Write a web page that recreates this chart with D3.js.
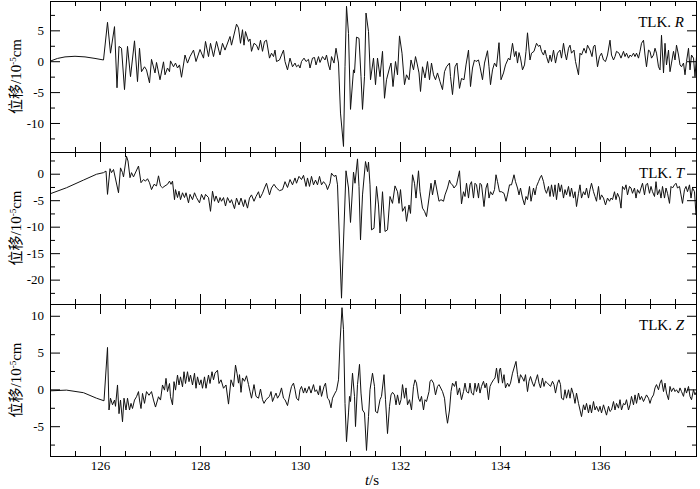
<!DOCTYPE html>
<html>
<head>
<meta charset="utf-8">
<script src="https://cdn.jsdelivr.net/npm/d3@7"></script>
<style>
body { margin: 0; background: #fff; }
svg { display: block; }
.tick text { font-family: "Liberation Serif", "Times New Roman", serif; font-size: 13px; fill: #000; }
.tick line { stroke: #000; }
</style>
</head>
<body>
<svg id="chart" width="700" height="489"></svg>
<script>
// [t (s), displacement (10^-5 cm)]
const traceR = [
  [125.00,0],[125.15,0.45],[125.3,0.7],[125.5,0.8],[125.7,0.7],[125.9,0.45],[126.07,0.2],
  [126.15,6.3],[126.21,1.3],[126.29,5.6],[126.34,-4.3],[126.38,2.4],[126.43,2.1],[126.49,-4.6],[126.55,2.4],
  [126.61,-2.5],[126.69,3.3],[126.75,-3.3],[126.79,2.1],[126.83,-1.7],[126.89,-0.9],[126.93,-1.4],[126.99,-3.5],
  [127.03,0.3],[127.10,-1.9],[127.13,-0.2],[127.20,-3.0],[127.27,-0.1],[127.30,-2.2],[127.35,-1.1],[127.39,-1.7],
  [127.41,0.05],[127.47,-0.9],[127.51,-0.3],[127.55,-1.1],[127.59,-0.6],[127.63,-2.6],[127.70,1.0],[127.75,-0.3],
  [127.80,0.75],[127.87,1.8],[127.92,-0.05],[128.00,1.9],[128.07,0.5],[128.11,3.2],[128.17,0.75],[128.21,2.9],
  [128.27,0.75],[128.33,3.2],[128.40,1.0],[128.45,2.9],[128.50,1.8],[128.60,4.0],[128.63,2.6],[128.73,6.0],
  [128.77,5.4],[128.81,2.9],[128.85,5.1],[128.88,2.6],[128.91,4.8],[128.97,3.2],[129.00,3.6],[129.03,1.6],
  [129.08,2.9],[129.13,2.6],[129.17,1.8],[129.21,3.4],[129.25,1.6],[129.29,3.2],[129.33,3.4],[129.39,0.5],
  [129.43,1.3],[129.47,0.75],[129.50,1.8],[129.53,-0.05],[129.59,0.2],[129.67,1.8],[129.70,-0.05],[129.75,-1.4],
  [129.80,0.5],[129.85,-0.9],[129.90,-0.3],[129.93,-0.9],[129.97,-0.6],[130.00,-1.1],[130.03,-0.05],[130.08,0.5],
  [130.12,-0.05],[130.17,0.3],[130.20,-1.1],[130.25,0.5],[130.29,0.6],[130.32,-0.6],[130.37,0.75],[130.40,-0.2],
  [130.45,0.75],[130.50,0.2],[130.53,1.0],[130.57,-0.6],[130.60,-1.4],[130.63,0.75],[130.68,-0.3],[130.72,2.1],
  [130.77,-0.3],[130.81,-8.4],[130.87,-13.8],[130.90,-0.9],[130.93,8.9],[130.97,4.5],[131.01,-7.8],[131.07,-1.4],
  [131.09,-1.9],[131.13,3.9],[131.18,3.7],[131.22,-2.5],[131.25,-7.8],[131.29,-2.5],[131.32,7.8],[131.37,4.8],
  [131.41,-3.0],[131.47,0.5],[131.51,-3.8],[131.55,0.5],[131.60,-2.5],[131.65,1.6],[131.69,-6.0],[131.73,-3.0],
  [131.79,-1.1],[131.82,-0.3],[131.86,-4.1],[131.91,-0.05],[131.95,-2.2],[131.99,4.1],[132.04,1.3],[132.09,-3.8],
  [132.13,-2.2],[132.18,-3.0],[132.22,0.2],[132.27,-1.4],[132.31,0.75],[132.34,-0.3],[132.38,-1.9],[132.41,-4.9],
  [132.45,-0.9],[132.50,-2.7],[132.55,-0.05],[132.59,-3.0],[132.63,-0.3],[132.67,-2.2],[132.71,-3.0],[132.75,-1.9],
  [132.80,-3.3],[132.85,-4.6],[132.89,-1.7],[132.93,-0.9],[132.99,-0.3],[133.01,-2.5],[133.05,-5.4],[133.10,-0.9],
  [133.14,-0.3],[133.19,-4.4],[133.23,-2.8],[133.28,-3.0],[133.32,-0.6],[133.37,1.8],[133.41,-4.1],[133.45,-1.1],
  [133.49,0.2],[133.52,-0.05],[133.57,0.2],[133.60,-0.9],[133.65,-3.0],[133.69,-0.3],[133.75,1.7],[133.78,-0.9],
  [133.81,-3.8],[133.85,-1.4],[133.89,-0.3],[133.93,-0.9],[133.98,3.0],[134.02,-3.0],[134.07,-1.9],[134.11,-0.6],
  [134.17,0.5],[134.20,0.2],[134.25,2.9],[134.29,0.75],[134.32,1.6],[134.35,-0.3],[134.38,1.4],[134.41,0.5],
  [134.45,-1.4],[134.49,-0.6],[134.52,1.6],[134.55,4.6],[134.60,0.2],[134.63,1.3],[134.68,1.6],[134.73,2.9],
  [134.77,2.4],[134.80,2.6],[134.83,1.6],[134.87,1.0],[134.90,1.8],[134.93,0.75],[134.97,-0.3],[135.00,1.0],
  [135.03,-0.05],[135.07,1.8],[135.11,-0.3],[135.15,1.3],[135.20,1.8],[135.23,0.5],[135.27,2.9],[135.30,1.3],
  [135.33,0.2],[135.37,2.1],[135.40,2.6],[135.43,1.3],[135.48,1.8],[135.51,-0.05],[135.57,-2.2],[135.60,1.3],
  [135.63,1.0],[135.68,2.1],[135.72,1.3],[135.75,2.6],[135.80,1.8],[135.84,0.75],[135.87,2.4],[135.90,2.6],
  [135.95,-0.9],[135.99,0.75],[136.03,1.3],[136.07,0.2],[136.11,-0.05],[136.15,1.0],[136.20,3.4],[136.23,1.0],
  [136.27,0.2],[136.30,0.75],[136.33,1.6],[136.38,1.3],[136.42,0.5],[136.47,1.6],[136.50,0.75],[136.53,1.3],
  [136.57,0.5],[136.60,1.0],[136.63,0.75],[136.67,1.3],[136.70,0.75],[136.73,1.3],[136.77,0.5],[136.80,1.6],
  [136.83,2.9],[136.87,3.4],[136.90,1.0],[136.93,-0.9],[136.97,1.8],[137.00,1.6],[137.03,0.5],[137.07,1.0],
  [137.10,2.1],[137.13,1.3],[137.17,-0.9],[137.20,-1.4],[137.23,4.2],[137.27,-1.9],[137.30,2.9],[137.33,-0.6],
  [137.37,1.8],[137.40,-1.7],[137.43,-0.3],[137.47,1.6],[137.50,0.2],[137.53,2.6],[137.57,1.0],[137.60,-0.6],
  [137.63,-0.9],[137.67,-0.3],[137.70,-2.2],[137.73,-0.05],[137.77,2.1],[137.80,-1.4],[137.83,1.0],[137.87,0.5],
  [137.90,-2.5],[137.93,0.75],[137.95,0]
];

const traceT = [
  [125.00,-3.8],[125.33,-2.65],[125.67,-1.2],[125.93,-0.1],[126.07,0.2],
  [126.12,0.5],[126.15,-3.9],[126.2,0.95],[126.23,0.2],[126.27,0.8],[126.37,-3.6],[126.41,1.1],[126.45,0.2],
  [126.47,-0.6],[126.53,3.3],[126.56,2.4],[126.6,-0.75],[126.63,0.2],[126.67,-0.6],[126.77,1.45],[126.82,-1.7],
  [126.87,-1.1],[126.91,-1.4],[126.95,-0.95],[126.99,-1.7],[127.03,-3.0],[127.08,-2.0],[127.13,-2.3],[127.17,-0.4],
  [127.21,-2.3],[127.25,-2.65],[127.3,-2.3],[127.35,-2.0],[127.39,-1.4],[127.42,-2.0],[127.45,-1.4],[127.49,-4.9],
  [127.51,-3.0],[127.55,-4.5],[127.58,-3.3],[127.61,-4.9],[127.65,-3.6],[127.69,-4.5],[127.72,-3.6],[127.77,-5.5],
  [127.8,-3.9],[127.85,-4.9],[127.89,-3.6],[127.93,-4.5],[127.99,-5.5],[128.03,-3.9],[128.08,-4.9],[128.11,-3.9],
  [128.17,-4.5],[128.21,-7.1],[128.25,-3.3],[128.29,-5.2],[128.32,-4.2],[128.37,-5.5],[128.4,-4.5],[128.43,-5.2],
  [128.47,-4.5],[128.51,-6.1],[128.55,-4.5],[128.6,-5.5],[128.63,-4.9],[128.69,-6.6],[128.73,-4.6],[128.78,-5.9],
  [128.82,-4.6],[128.87,-6.2],[128.9,-4.9],[128.95,-6.5],[128.99,-4.6],[129.03,-4.0],[129.08,-5.2],[129.12,-4.3],
  [129.17,-3.4],[129.2,-4.6],[129.25,-3.7],[129.29,-2.7],[129.33,-1.8],[129.39,-4.0],[129.43,-2.7],[129.48,-2.0],
  [129.53,-2.7],[129.59,-3.2],[129.65,-3.0],[129.7,-1.5],[129.75,-2.6],[129.8,-1.1],[129.85,-2.1],[129.9,-0.8],
  [129.93,-1.8],[129.98,-0.5],[130.03,-1.1],[130.07,-0.3],[130.12,-2.4],[130.15,-0.8],[130.19,-2.4],[130.23,-0.5],
  [130.27,-2.1],[130.31,-1.2],[130.35,-2.1],[130.39,-0.5],[130.43,-2.1],[130.47,-1.5],[130.52,-2.1],[130.55,-3.0],
  [130.6,-1.8],[130.63,0.1],[130.68,-0.5],[130.72,-0.3],[130.75,-2.1],[130.83,-23.5],[130.92,0.55],[130.97,-2.7],
  [131.01,-9.2],[131.07,0.3],[131.1,-1.8],[131.15,2.8],[131.18,-2.4],[131.21,-12.5],[131.25,-4.0],[131.31,2.3],
  [131.35,0.4],[131.37,2.2],[131.4,-2.1],[131.43,-10.6],[131.48,-10.3],[131.53,-2.4],[131.57,-5.9],[131.6,-11.2],
  [131.65,-3.4],[131.7,-10.9],[131.75,-10.6],[131.8,-4.3],[131.85,-5.6],[131.9,-2.3],[131.95,-3.4],[131.98,-5.6],
  [132.01,-3.0],[132.05,-7.1],[132.1,-6.2],[132.13,-9.0],[132.18,-5.9],[132.21,-7.5],[132.25,-0.2],[132.29,-1.8],
  [132.32,-4.6],[132.37,0.55],[132.4,-3.4],[132.45,-6.5],[132.49,-7.1],[132.53,-8.1],[132.58,-4.6],[132.62,-1.8],
  [132.65,-4.0],[132.7,-1.2],[132.73,-2.7],[132.78,-5.2],[132.82,-4.9],[132.87,-5.2],[132.9,-4.0],[132.95,-2.7],
  [132.99,-1.2],[133.01,-1.8],[133.05,-2.1],[133.08,-2.7],[133.13,-2.1],[133.19,0.55],[133.23,-5.7],[133.27,-3.4],
  [133.3,-4.3],[133.33,-1.8],[133.37,-4.6],[133.4,-2.1],[133.43,-1.5],[133.47,-4.6],[133.5,-1.8],[133.53,-2.1],
  [133.57,-4.6],[133.6,-1.8],[133.63,-2.1],[133.68,-6.2],[133.72,-2.7],[133.75,-1.8],[133.78,-4.6],[133.81,-3.4],
  [133.85,-4.0],[133.89,-3.0],[133.92,-0.2],[133.95,-1.5],[133.99,-3.4],[134.03,-3.4],[134.08,-3.7],[134.12,-5.2],
  [134.15,-4.0],[134.19,-2.1],[134.23,-2.1],[134.28,-0.2],[134.31,-1.5],[134.35,-2.7],[134.38,-4.0],[134.41,-2.7],
  [134.45,-4.6],[134.49,-5.9],[134.52,-4.3],[134.55,-4.9],[134.59,-2.4],[134.62,-5.2],[134.67,-2.7],[134.7,-4.0],
  [134.73,-2.4],[134.77,-1.5],[134.8,-0.8],[134.83,-0.3],[134.87,-1.5],[134.9,-3.0],[134.93,-3.7],[134.97,-2.4],
  [135.0,-4.3],[135.03,-2.1],[135.07,-4.3],[135.1,-2.1],[135.13,-4.9],[135.17,-1.8],[135.2,-3.4],[135.23,-2.1],
  [135.27,-4.6],[135.3,-3.0],[135.33,-4.0],[135.37,-2.4],[135.4,-4.3],[135.43,-2.7],[135.47,-4.6],[135.5,-3.4],
  [135.53,-6.2],[135.57,-3.7],[135.6,-2.1],[135.63,-4.6],[135.67,-3.4],[135.7,-4.0],[135.73,-2.7],[135.77,-4.6],
  [135.8,-3.0],[135.83,-1.8],[135.87,-3.4],[135.9,-4.3],[135.93,-5.2],[135.97,-2.4],[136.0,-4.9],[136.03,-4.0],
  [136.07,-4.6],[136.11,-5.9],[136.15,-4.6],[136.19,-5.2],[136.22,-4.6],[136.25,-4.9],[136.29,-3.4],[136.32,-4.9],
  [136.35,-3.7],[136.39,-4.6],[136.42,-6.5],[136.45,-2.4],[136.49,-3.0],[136.52,-2.1],[136.55,-4.0],[136.59,-2.4],
  [136.62,-2.7],[136.65,-3.7],[136.69,-2.7],[136.72,-4.6],[136.75,-3.0],[136.79,-3.7],[136.82,-2.7],[136.85,-1.8],
  [136.89,-4.0],[136.92,-2.1],[136.95,-1.8],[136.99,-3.7],[137.02,-2.4],[137.05,-3.4],[137.09,-4.3],[137.12,-1.5],
  [137.15,-4.0],[137.19,-3.0],[137.22,-4.6],[137.25,-2.4],[137.29,-4.6],[137.32,-2.7],[137.35,-3.7],[137.39,-5.6],
  [137.42,-2.4],[137.45,-2.7],[137.49,-2.1],[137.52,-1.8],[137.55,-2.7],[137.59,-2.4],[137.62,-4.0],[137.65,-5.6],
  [137.69,-3.0],[137.72,-2.4],[137.75,-3.4],[137.79,-2.1],[137.82,-4.6],[137.85,-2.7],[137.89,-3.4],[137.92,-7.8],
  [137.95,-6.5]
];

const traceZ = [
  [125.00,-0.2],[125.33,-0.1],[125.67,-0.45],[125.93,-1.2],[126.08,-1.55],
  [126.15,5.7],[126.18,-2.8],[126.21,-1.2],[126.25,-2.1],[126.29,-1.45],[126.31,-2.3],[126.35,0.6],[126.38,-3.3],
  [126.41,-1.45],[126.45,-4.4],[126.48,-1.2],[126.52,-2.8],[126.55,-1.2],[126.59,-2.8],[126.62,-1.9],[126.65,-2.6],
  [126.69,-1.45],[126.73,-1.0],[126.77,-0.3],[126.79,-1.45],[126.82,-2.6],[126.85,-0.55],[126.89,-1.9],[126.93,-0.3],
  [126.98,-0.8],[127.03,-0.3],[127.07,-1.45],[127.11,-2.4],[127.17,-1.0],[127.21,-1.45],[127.25,0.6],[127.29,-0.1],
  [127.32,1.5],[127.35,-0.3],[127.39,0.8],[127.41,-1.0],[127.45,-2.1],[127.48,1.05],[127.51,-0.1],[127.55,1.95],
  [127.58,0.6],[127.61,1.7],[127.65,0.35],[127.68,2.4],[127.71,0.8],[127.75,2.4],[127.78,1.05],[127.81,1.95],
  [127.85,0.6],[127.89,2.2],[127.92,0.15],[127.95,1.7],[127.99,0.6],[128.02,1.3],[128.05,0.15],[128.09,1.7],
  [128.12,0.15],[128.17,1.95],[128.2,0.8],[128.24,2.4],[128.27,1.3],[128.3,2.2],[128.35,2.6],[128.38,0.8],
  [128.42,1.3],[128.47,0.15],[128.52,0.6],[128.57,-2.0],[128.62,1.3],[128.67,0.35],[128.71,3.3],[128.74,2.2],
  [128.77,0.85],[128.79,2.0],[128.82,-0.4],[128.85,1.55],[128.89,1.1],[128.93,1.85],[128.97,0.65],[129.0,-0.3],
  [129.03,-1.2],[129.08,0.65],[129.12,-0.95],[129.17,-1.2],[129.21,0.05],[129.25,-1.4],[129.28,-1.9],[129.32,-1.4],
  [129.39,-0.95],[129.42,-0.3],[129.45,-1.65],[129.49,-0.95],[129.52,-0.5],[129.55,-1.2],[129.59,-0.75],[129.63,0.2],
  [129.67,-1.2],[129.7,-1.4],[129.75,-2.2],[129.8,-0.5],[129.83,0.4],[129.87,0.85],[129.9,-0.05],[129.93,-1.2],
  [129.97,-1.5],[130.0,-0.05],[130.03,0.4],[130.07,-0.5],[130.1,0.2],[130.13,-0.5],[130.18,0.4],[130.22,-0.5],
  [130.27,0.65],[130.3,-0.3],[130.33,-0.05],[130.37,-0.75],[130.4,0.5],[130.43,-0.95],[130.48,0.4],[130.51,0.85],
  [130.55,-1.2],[130.58,-1.4],[130.62,-2.5],[130.65,-1.2],[130.7,-0.5],[130.73,-0.15],[130.77,1.3],[130.8,6.3],
  [130.84,11.1],[130.87,8.1],[130.9,-1.9],[130.93,-7.1],[130.97,-3.2],[130.99,-0.95],[131.01,-1.65],[131.05,2.2],
  [131.09,-0.95],[131.11,-5.05],[131.15,0.65],[131.19,3.4],[131.22,-0.5],[131.25,-2.8],[131.29,-3.2],[131.33,-8.3],
  [131.37,-3.7],[131.4,-0.05],[131.45,2.2],[131.49,0.4],[131.51,-3.0],[131.55,-3.2],[131.6,-1.4],[131.63,-0.95],
  [131.68,2.0],[131.71,-1.4],[131.75,-6.0],[131.79,-2.3],[131.82,-0.75],[131.85,-0.4],[131.89,-0.75],[131.92,-2.1],
  [131.95,-0.75],[131.99,-2.1],[132.02,-1.4],[132.05,0.65],[132.09,-1.2],[132.12,0.2],[132.15,-2.1],[132.19,-1.4],
  [132.23,-2.8],[132.27,0.4],[132.3,1.3],[132.33,0.85],[132.37,-1.2],[132.4,-1.65],[132.43,-0.95],[132.47,-2.8],
  [132.5,-1.4],[132.53,-1.65],[132.58,-0.3],[132.6,1.1],[132.63,1.3],[132.67,0.85],[132.71,-0.75],[132.75,0.4],
  [132.78,0.65],[132.85,-0.3],[132.89,-1.2],[132.92,-3.2],[132.95,-4.6],[132.99,-2.8],[133.02,-0.3],[133.05,0.85],
  [133.09,0.4],[133.12,1.1],[133.15,-0.75],[133.19,0.2],[133.23,-1.4],[133.27,-0.3],[133.3,0.85],[133.33,-0.3],
  [133.37,-0.5],[133.4,0.85],[133.43,-0.5],[133.47,-0.75],[133.5,0.85],[133.53,-0.3],[133.57,0.85],[133.6,-0.5],
  [133.63,0.4],[133.67,1.1],[133.7,0.2],[133.73,0.85],[133.77,-1.4],[133.8,0.4],[133.83,0.85],[133.87,1.3],
  [133.9,1.55],[133.93,2.9],[133.97,0.85],[133.99,2.7],[134.01,2.9],[134.05,0.85],[134.08,2.0],[134.11,0.2],
  [134.15,0.85],[134.18,0.4],[134.21,0.85],[134.25,2.2],[134.28,2.9],[134.32,3.8],[134.35,2.0],[134.38,0.85],
  [134.41,2.0],[134.45,1.55],[134.48,1.1],[134.51,2.0],[134.55,-0.3],[134.58,1.1],[134.61,1.75],[134.65,0.85],
  [134.68,0.4],[134.71,1.1],[134.75,2.0],[134.78,0.85],[134.81,0.2],[134.85,1.55],[134.88,0.4],[134.91,1.1],
  [134.95,0.85],[135.01,0.4],[135.05,1.1],[135.08,0.65],[135.11,-0.5],[135.15,0.85],[135.18,1.3],[135.21,0.65],
  [135.23,-1.2],[135.27,-1.4],[135.3,-0.05],[135.33,-1.2],[135.37,-0.05],[135.4,-1.2],[135.43,0.2],[135.47,-0.75],
  [135.5,-1.9],[135.53,-0.5],[135.57,-1.9],[135.6,-2.8],[135.63,-3.7],[135.67,-2.1],[135.7,-2.8],[135.73,-1.9],
  [135.77,-3.2],[135.8,-2.1],[135.83,-3.2],[135.87,-1.65],[135.9,-2.8],[135.93,-2.3],[135.97,-3.0],[136.0,-2.3],
  [136.03,-3.2],[136.07,-2.1],[136.1,-2.8],[136.13,-3.5],[136.17,-2.3],[136.2,-3.0],[136.23,-2.8],[136.27,-1.65],
  [136.3,-2.8],[136.33,-1.9],[136.37,-2.55],[136.4,-1.4],[136.43,-2.8],[136.47,-1.9],[136.5,-2.1],[136.53,-1.4],
  [136.57,-2.8],[136.6,-2.1],[136.63,-0.95],[136.67,-2.1],[136.7,-0.75],[136.73,-1.9],[136.77,-0.5],[136.8,-1.4],
  [136.83,-0.95],[136.87,-1.65],[136.9,-1.2],[136.93,-0.75],[136.97,-1.2],[137.0,-1.9],[137.03,-1.2],[137.07,-0.75],
  [137.1,0.2],[137.13,0.65],[137.17,-0.05],[137.2,0.85],[137.23,1.3],[137.27,-0.3],[137.3,0.85],[137.33,-0.5],
  [137.37,-1.4],[137.4,0.4],[137.43,-0.3],[137.47,0.2],[137.5,-0.3],[137.53,-0.05],[137.57,-0.5],[137.6,0.2],
  [137.63,-0.3],[137.67,-0.95],[137.7,0.2],[137.73,-0.5],[137.77,0.4],[137.8,-0.95],[137.83,-1.4],[137.87,-0.05],
  [137.9,-0.75],[137.93,-0.3],[137.95,-0.05]
];

// axes
const xDomain = [125, 137.94];
const xMajor = [126, 128, 130, 132, 134, 136];
const xMinor = [125.5, 126, 126.5, 127, 127.5, 128, 128.5, 129, 129.5, 130, 130.5, 131, 131.5,
                132, 132.5, 133, 133.5, 134, 134.5, 135, 135.5, 136, 136.5, 137, 137.5];

const domainR = [-14.7, 9.75];
const domainT = [-24.6, 4.1];
const domainZ = [-9.05, 11.6];
const majorR = [-10, -5, 0, 5];
const minorR = [-12.5, -7.5, -2.5, 2.5, 7.5];
const majorT = [-20, -15, -10, -5, 0];
const minorT = [-22.5, -17.5, -12.5, -7.5, -2.5, 2.5];
const majorZ = [-5, 0, 5, 10];
const minorZ = [-7.5, -2.5, 2.5, 7.5];
const components = ["R", "T", "Z"];

const left = 50, right = 697;
const bounds = [[1, 152], [152, 304], [304, 456]];

const panels = [
  { trace: traceR, domain: domainR, major: majorR, minor: minorR, comp: components[0] },
  { trace: traceT, domain: domainT, major: majorT, minor: minorT, comp: components[1] },
  { trace: traceZ, domain: domainZ, major: majorZ, minor: minorZ, comp: components[2] }
];

const svg = d3.select("#chart");
const x = d3.scaleLinear().domain(xDomain).range([left, right]);
const serif = '"Liberation Serif", "Times New Roman", serif';

function drawPanel(p, i) {
  const top = bounds[i][0], bottom = bounds[i][1];
  const y = d3.scaleLinear().domain(p.domain).range([bottom, top]);
  const g = svg.append("g");

  g.append("clipPath").attr("id", "clip" + i)
    .append("rect")
    .attr("x", left).attr("y", top)
    .attr("width", right - left).attr("height", bottom - top);

  const line = d3.line().x(d => x(d[0])).y(d => y(d[1]));
  g.append("path")
    .datum(p.trace)
    .attr("clip-path", "url(#clip" + i + ")")
    .attr("d", line)
    .attr("fill", "none")
    .attr("stroke", "#111")
    .attr("stroke-width", 1)
    .attr("stroke-linejoin", "round");

  // minor ticks, all four sides, pointing in
  g.append("g").attr("transform", `translate(${left},0)`)
    .call(d3.axisLeft(y).tickValues(p.minor).tickSizeInner(-5).tickSizeOuter(0).tickFormat(""));
  g.append("g").attr("transform", `translate(${right},0)`)
    .call(d3.axisRight(y).tickValues(p.minor).tickSizeInner(-5).tickSizeOuter(0).tickFormat(""));
  g.append("g").attr("transform", `translate(0,${top})`)
    .call(d3.axisTop(x).tickValues(xMinor).tickSizeInner(-5).tickSizeOuter(0).tickFormat(""));
  g.append("g").attr("transform", `translate(0,${bottom})`)
    .call(d3.axisBottom(x).tickValues(xMinor).tickSizeInner(-5).tickSizeOuter(0).tickFormat(""));

  // major ticks
  g.append("g").attr("transform", `translate(${left},0)`)
    .call(d3.axisLeft(y).tickValues(p.major).tickSizeInner(-10).tickSizeOuter(0).tickPadding(6)
      .tickFormat(d => String(d)));
  g.append("g").attr("transform", `translate(${right},0)`)
    .call(d3.axisRight(y).tickValues(p.major).tickSizeInner(-10).tickSizeOuter(0).tickFormat(""));
  g.append("g").attr("transform", `translate(0,${top})`)
    .call(d3.axisTop(x).tickValues(xMajor).tickSizeInner(-10).tickSizeOuter(0).tickFormat(""));
  g.append("g").attr("transform", `translate(0,${bottom})`)
    .call(d3.axisBottom(x).tickValues(xMajor).tickSizeInner(-10).tickSizeOuter(0).tickPadding(5)
      .tickFormat(i === 2 ? (d => String(d)) : ""));

  g.selectAll(".domain").remove();

  g.append("rect")
    .attr("x", left + 0.5).attr("y", top + 0.5)
    .attr("width", right - left - 1).attr("height", bottom - top)
    .attr("fill", "none").attr("stroke", "#000").attr("stroke-width", 1);

  // station label
  const lab = g.append("text")
    .attr("x", 684).attr("y", top + 26)
    .attr("text-anchor", "end")
    .style("font-family", serif).style("font-size", "15px");
  lab.append("tspan").text("TLK. ");
  lab.append("tspan").style("font-style", "italic").text(p.comp);

  // y label
  const yl = g.append("text")
    .attr("transform", `translate(21,${(top + bottom) / 2}) rotate(-90)`)
    .attr("text-anchor", "middle")
    .style("font-family", '"Liberation Serif", "Noto Sans CJK SC", serif')
    .style("font-size", "15px");
  yl.append("tspan").text("位移/10");
  yl.append("tspan").attr("dy", -5).style("font-size", "9px").text("-5");
  yl.append("tspan").attr("dy", 5).text("cm");
}

panels.forEach(drawPanel);

// x label
const xl = svg.append("text")
  .attr("x", 372).attr("y", 485)
  .attr("text-anchor", "middle")
  .style("font-family", serif).style("font-size", "15px");
xl.append("tspan").style("font-style", "italic").text("t");
xl.append("tspan").text("/s");
</script>
</body>
</html>
